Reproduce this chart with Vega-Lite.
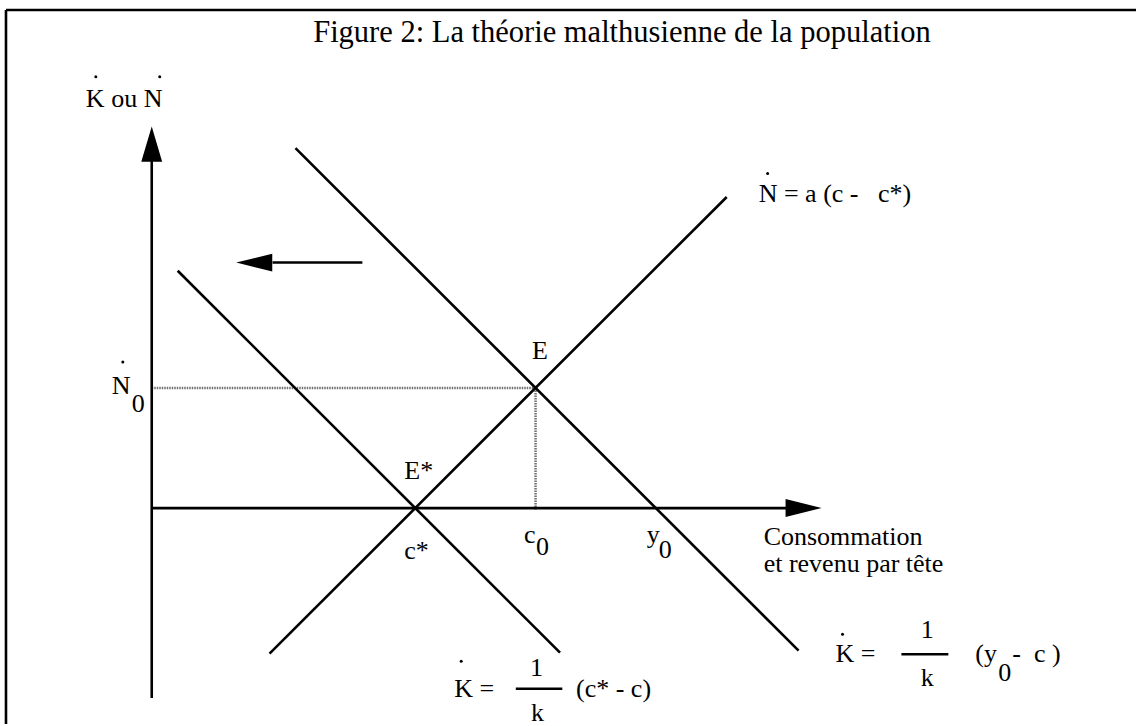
{
  "$schema": "https://vega.github.io/schema/vega-lite/v6.json",
  "width": 1138,
  "height": 726,
  "autosize": {"type": "fit", "contains": "padding"},
  "padding": 0,
  "background": "white",
  "config": {"view": {"stroke": null}},
  "datasets": {
    "lines": [
      {"name": "axe vertical", "x": 0, "y": -190.5, "x2": 0, "y2": 348},
      {"name": "axe horizontal", "x": 0, "y": 0, "x2": 636, "y2": 0},
      {"name": "K y0", "x": 144, "y": 361, "x2": 648, "y2": -143},
      {"name": "K c*", "x": 26, "y": 238, "x2": 409, "y2": -145},
      {"name": "N", "x": 118, "y": -146, "x2": 576, "y2": 312},
      {"name": "deplacement", "x": 121, "y": 246.2, "x2": 211, "y2": 246.2},
      {"name": "cadre haut", "x": -146, "y": 499.5, "x2": 986, "y2": 499.5},
      {"name": "cadre gauche", "x": -146, "y": 499.5, "x2": -146, "y2": -216.5},
      {"name": "fraction bas", "x": 364.7, "y": -181.2, "x2": 411.3, "y2": -181.2},
      {"name": "fraction droite", "x": 751, "y": -146.5, "x2": 798, "y2": -146.5}
    ],
    "guides": [
      {"name": "N0", "x": 0, "y": 120.5, "x2": 384.5, "y2": 120.5},
      {"name": "c0", "x": 384.5, "y": 120.5, "x2": 384.5, "y2": -2}
    ],
    "arrows": [
      {"dir": "up", "x": 0, "y": 365},
      {"dir": "right", "x": 653, "y": 0},
      {"dir": "left", "x": 102.7, "y": 246.2}
    ],
    "dots": [
      {"x": -56, "y": 432.5},
      {"x": 8, "y": 432.5},
      {"x": -29, "y": 146.5},
      {"x": 617, "y": 335.5},
      {"x": 692, "y": -126.5},
      {"x": 310, "y": -153.5}
    ],
    "labels": [
      {"text": "K ou N", "x": -66, "y": 402.5},
      {"text": "N", "x": -40, "y": 114.5},
      {"text": "0", "x": -20, "y": 96.5},
      {"text": "E*", "x": 253, "y": 29.5},
      {"text": "E", "x": 381, "y": 149.5},
      {"text": "c*", "x": 253, "y": -51.5},
      {"text": "c", "x": 373, "y": -35.5},
      {"text": "0", "x": 385, "y": -47.5},
      {"text": "y", "x": 496, "y": -35.5},
      {"text": "0", "x": 508, "y": -50.5},
      {"text": "Consommation", "x": 613, "y": -37.5},
      {"text": "et revenu par tête", "x": 613, "y": -64.5},
      {"text": "N = a (c -\u00a0\u00a0\u00a0c*)", "x": 608, "y": 306.5},
      {"text": "K =", "x": 685, "y": -154.5},
      {"text": "(y", "x": 825, "y": -154.5},
      {"text": "0", "x": 848, "y": -173.5},
      {"text": "-\u00a0\u00a0c )", "x": 862, "y": -154.5},
      {"text": "K =", "x": 303, "y": -189.5},
      {"text": "(c* - c)", "x": 425, "y": -189.5}
    ],
    "centered": [
      {"text": "1", "x": 777, "y": -130.5},
      {"text": "k", "x": 777, "y": -178.5},
      {"text": "1", "x": 385.5, "y": -168.5},
      {"text": "k", "x": 386.5, "y": -213.5}
    ],
    "title": [
      {"text": "Figure 2: La théorie malthusienne de la population", "x": 471, "y": 467.5}
    ]
  },
  "encoding": {
    "x": {"field": "x", "type": "quantitative", "scale": {"domain": [-152, 986], "nice": false, "zero": false}, "axis": null},
    "y": {"field": "y", "type": "quantitative", "scale": {"domain": [-216.5, 509.5], "nice": false, "zero": false}, "axis": null}
  },
  "layer": [
    {
      "data": {"name": "guides"},
      "mark": {"type": "rule", "color": "#707070", "strokeWidth": 2.5, "strokeDash": [1.5, 1]},
      "encoding": {"x2": {"field": "x2"}, "y2": {"field": "y2"}}
    },
    {
      "data": {"name": "lines"},
      "mark": {"type": "rule", "color": "black", "strokeWidth": 2.6},
      "encoding": {"x2": {"field": "x2"}, "y2": {"field": "y2"}}
    },
    {
      "data": {"name": "arrows"},
      "mark": {"type": "point", "filled": true, "color": "black", "opacity": 1, "size": 1296, "strokeWidth": 0},
      "encoding": {
        "shape": {"field": "dir", "type": "nominal", "legend": null,
          "scale": {"domain": ["up", "right", "left"],
            "range": ["M0,-0.98L-0.58,0.98L0.58,0.98Z", "M1,0L-1,-0.5L-1,0.5Z", "M-1,0L1,-0.49L1,0.49Z"]}}
      }
    },
    {
      "data": {"name": "dots"},
      "mark": {"type": "point", "shape": "circle", "filled": true, "color": "black", "opacity": 1, "size": 9, "strokeWidth": 0}
    },
    {
      "data": {"name": "labels"},
      "mark": {"type": "text", "font": "Liberation Serif", "fontSize": 26, "align": "left", "baseline": "alphabetic", "color": "black"},
      "encoding": {"text": {"field": "text"}}
    },
    {
      "data": {"name": "centered"},
      "mark": {"type": "text", "font": "Liberation Serif", "fontSize": 26, "align": "center", "baseline": "alphabetic", "color": "black"},
      "encoding": {"text": {"field": "text"}}
    },
    {
      "data": {"name": "title"},
      "mark": {"type": "text", "font": "Liberation Serif", "fontSize": 30.5, "align": "center", "baseline": "alphabetic", "color": "black"},
      "encoding": {"text": {"field": "text"}}
    }
  ]
}
